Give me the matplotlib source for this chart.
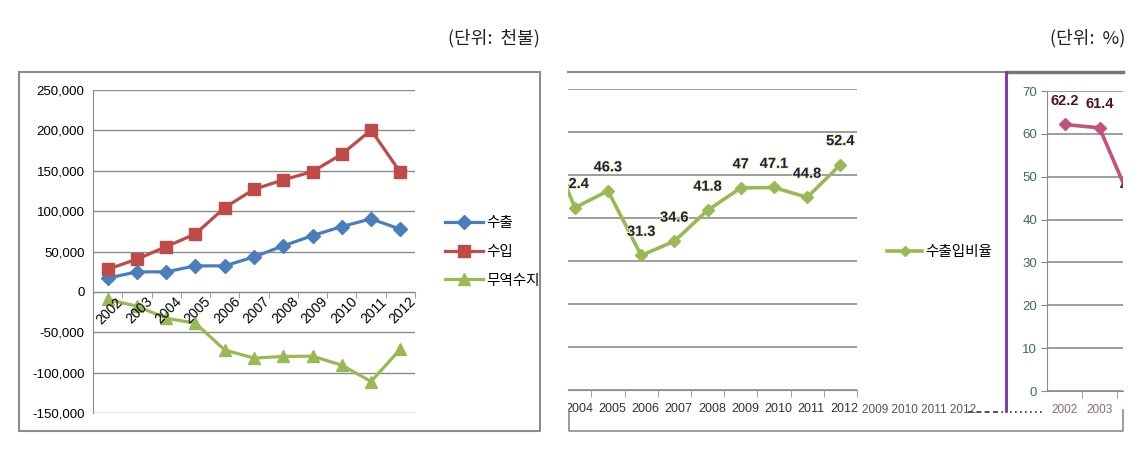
import matplotlib
matplotlib.use("Agg")
import matplotlib.pyplot as plt
from matplotlib.patches import Rectangle
from matplotlib.lines import Line2D
from matplotlib.transforms import Bbox
import matplotlib.patheffects as pe

plt.rcParams['font.family'] = ['Liberation Sans', 'Noto Sans CJK KR', 'DejaVu Sans']

years = [2002, 2003, 2004, 2005, 2006, 2007, 2008, 2009, 2010, 2011, 2012]
exports = [17000, 24800, 24800, 32200, 32200, 43300, 57000, 69700, 80900, 90400, 77600]
imports = [28000, 40500, 56000, 71800, 104400, 127000, 138700, 149000, 170500, 200400, 148000]
balance = [-9400, -17700, -32600, -38800, -72000, -82000, -80000, -79600, -90800, -111000, -70800]
ratio = [62.2, 61.4, 42.4, 46.3, 31.3, 34.6, 41.8, 47, 47.1, 44.8, 52.4]

W, H = 1145, 451
fig = plt.figure(figsize=(W / 100, H / 100), dpi=100)

def box(x0, y0, x1, y1):
    return [x0 / W, 1 - y1 / H, (x1 - x0) / W, (y1 - y0) / H]

def fline(xs, ys, **kw):
    fig.add_artist(Line2D([x / W for x in xs], [1 - y / H for y in ys], **kw))

def pxclip(x0, x1):
    # clip region in display pixels (dpi 100, origin bottom-left)
    return Bbox([[x0, 0], [x1, H]])

GRID = '#8c8c8c'
BLUE, RED, GREEN, PINK = '#4a7ebb', '#be4b48', '#98b954', '#c4527c'
idx = list(range(len(years)))

# ---------- left chart ----------
fig.add_artist(Rectangle((19 / W, 1 - 431 / H), 521 / W, 359 / H, transform=fig.transFigure,
                         fill=False, edgecolor='#8c8c8c', lw=1.5))
ax = fig.add_axes(box(93, 90, 415, 413))
ax.set_yticks(range(-150000, 250001, 50000))
ax.set_yticklabels([f'{v:,}' for v in range(-150000, 250001, 50000)], fontsize=9.5)
ax.yaxis.grid(True, color=GRID, lw=1)
ax.set_axisbelow(True)
for s in ['top', 'right']:
    ax.spines[s].set_visible(False)
ax.spines['left'].set_color(GRID)
ax.spines['bottom'].set_position(('data', 0))
ax.spines['bottom'].set_color(GRID)
ax.tick_params(axis='y', length=0, pad=6)
ax.set_xticks(idx)
ax.set_xticklabels([])
ax.tick_params(axis='x', which='major', length=0)
ax.set_xticks([i - 0.5 for i in range(len(years) + 1)], minor=True)
ax.tick_params(axis='x', which='minor', length=4, color=GRID, direction='out')
for i, y in zip(idx, years):
    ax.annotate(str(y), xy=(i, 0), xytext=(6, -2), textcoords='offset points',
                rotation=45, ha='right', va='top', rotation_mode='anchor', fontsize=10)

ax.plot(idx, exports, color=BLUE, lw=2.3, marker='D', ms=7, label='수출')
ax.plot(idx, imports, color=RED, lw=2.3, marker='s', ms=8.5, label='수입')
ax.plot(idx, balance, color=GREEN, lw=2.3, marker='^', ms=9, label='무역수지')
ax.set_xlim(-0.5, 10.5)
ax.set_ylim(-150000, 250000)
leg = ax.legend(loc='center left', bbox_to_anchor=(432 / W, 1 - 252 / H),
                bbox_transform=fig.transFigure, frameon=False, handlelength=2.6,
                handletextpad=0.2, labelspacing=1.0, prop={'family': ['Noto Sans CJK KR'], 'size': 10.5})

fig.text(540 / W, 1 - 38 / H, '(단위:  천불)', ha='right', va='center', fontsize=13,
         family=['Noto Sans CJK KR'], color='#222222')
fig.text(1125 / W, 1 - 38 / H, '(단위:  %)', ha='right', va='center', fontsize=13,
         family=['Noto Sans CJK KR'], color='#222222')

# ---------- right panel frame ----------
fline([568, 1005], [72, 72], color='#8c8c8c', lw=1.5)
fline([1008, 1123], [72, 72], color='#777777', lw=2.5)
fline([569, 569, 1123, 1123], [410, 431, 431, 410], color='#8c8c8c', lw=1.2)

# green ratio chart (clipped on the left)
ax2 = fig.add_axes(box(568, 89, 857, 390))
ax2.set_yticks(range(0, 71, 10))
ax2.set_yticklabels([])
ax2.tick_params(axis='y', length=0)
ax2.yaxis.grid(True, color=GRID, lw=1.2)
for s in ['top', 'right', 'left']:
    ax2.spines[s].set_visible(False)
ax2.spines['bottom'].set_color(GRID)
ax2.set_xticks(idx)
ax2.set_xticklabels([])
ax2.tick_params(axis='x', which='major', length=0)
ax2.set_xticks([i + 0.5 for i in range(len(years))], minor=True)
ax2.tick_params(axis='x', which='minor', length=5, color=GRID, direction='out')
ax2.plot(idx, ratio, color=GREEN, lw=2.6, marker='D', ms=6.5)
ax2.set_xlim(1.795, 10.5)
ax2.set_ylim(0, 70)
halo = [pe.withStroke(linewidth=1.2, foreground='#f4f4a0')]
for i, v in zip(idx, ratio):
    t = ax2.annotate(f'{v:g}', xy=(i, v), xytext=(0, 17), textcoords='offset points',
                     ha='center', va='center', fontsize=10.5, fontweight='bold',
                     color='#1c1c5c', annotation_clip=False, path_effects=halo)
    t.set_clip_box(pxclip(568, 860))
    t.set_clip_on(True)
for i, y in zip(idx, years):
    t = ax2.annotate(str(y), xy=(i, 0), xytext=(3, -14), textcoords='offset points',
                     ha='center', va='center', fontsize=9, color='#333333',
                     annotation_clip=False)
    t.set_clip_box(pxclip(568, 860))
    t.set_clip_on(True)
fig.text(862 / W, 1 - 410 / H, ' '.join(str(y) for y in years[7:]), ha='left', va='center',
         fontsize=8.5, color='#555555')
fline([968, 1003], [412, 412], color='#333333', lw=1.2, ls=(0, (3, 2)))
fline([1010, 1045], [412, 412], color='#333333', lw=1.2, ls=(0, (1, 2)))

fig.legend([Line2D([], [], color=GREEN, lw=2.6, marker='D', ms=5)], ['수출입비율'],
           loc='center left', bbox_to_anchor=(874 / W, 1 - 252 / H), frameon=False,
           handlelength=2.4, handletextpad=0.2, prop={'family': ['Noto Sans CJK KR'], 'size': 10.5})

# purple divider
fline([1006, 1006], [72, 411], color='#7b2fa8', lw=2)

# pink ratio chart (cut at the right edge)
ax3 = fig.add_axes(box(1047, 91, 1123, 391))
ax3.set_yticks(range(0, 71, 10))
ax3.tick_params(axis='y', length=4, color=GRID, labelsize=9.5, labelcolor='#3f6a6a', pad=3)
ax3.yaxis.grid(True, color=GRID, lw=1.2)
for s in ['top', 'right']:
    ax3.spines[s].set_visible(False)
ax3.spines['left'].set_color(GRID)
ax3.spines['bottom'].set_color(GRID)
ax3.set_xticks(idx)
ax3.set_xticklabels([])
ax3.tick_params(axis='x', which='major', length=0)
ax3.set_xticks([i + 0.5 for i in range(len(years))], minor=True)
ax3.tick_params(axis='x', which='minor', length=5, color=GRID, direction='out')
ax3.plot(idx, ratio, color=PINK, lw=2.6, marker='D', ms=6.5)
ax3.set_xlim(-0.5, -0.5 + 76 / 35)
ax3.set_ylim(0, 70)
for i, v in zip(idx, ratio):
    t = ax3.annotate(f'{v:g}', xy=(i, v), xytext=(0, 17), textcoords='offset points',
                     ha='center', va='center', fontsize=10.5, fontweight='bold',
                     color='#4a1422', annotation_clip=False)
    t.set_clip_box(pxclip(1040, 1123))
    t.set_clip_on(True)
for i, y in zip(idx, years):
    t = ax3.annotate(str(y), xy=(i, 0), xytext=(0, -14), textcoords='offset points',
                     ha='center', va='center', fontsize=8.5, color='#8a6a78',
                     annotation_clip=False)
    t.set_clip_box(pxclip(1040, 1123))
    t.set_clip_on(True)

fig.savefig('out.png', dpi=100)
